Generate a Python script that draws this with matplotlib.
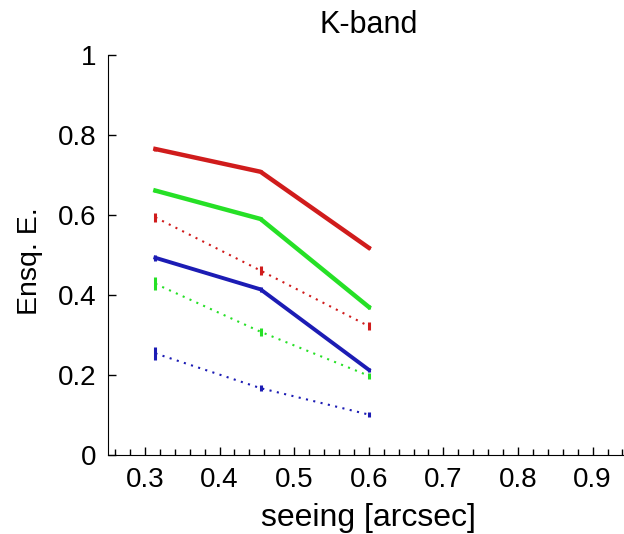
import matplotlib
matplotlib.use("Agg")
import matplotlib.pyplot as plt
from matplotlib.ticker import MultipleLocator

plt.rcParams['font.family'] = ['Liberation Sans', 'DejaVu Sans']

seeing = [0.314, 0.455, 0.600]

red_solid = [0.765, 0.708, 0.518]
green_solid = [0.661, 0.590, 0.370]
blue_solid = [0.493, 0.414, 0.213]
red_dotted = [0.594, 0.461, 0.322]
green_dotted = [0.428, 0.308, 0.198]
blue_dotted = [0.254, 0.167, 0.101]

red_solid_err = [0.004, 0.004, 0.004]
green_solid_err = [0.004, 0.004, 0.005]
blue_solid_err = [0.008, 0.006, 0.005]
red_dotted_err = [0.012, 0.012, 0.010]
green_dotted_err = [0.016, 0.010, 0.008]
blue_dotted_err = [0.016, 0.008, 0.006]

RED = '#d01c1c'
GREEN = '#26e026'
BLUE = '#1c1cb4'
DOT = (0, (1, 2.6))

fig = plt.figure(figsize=(6.24, 5.34), dpi=100)
ax = fig.add_axes([0.1725, 0.148, 0.837, 0.749])

series = [
    (red_solid, red_solid_err, RED, '-', 3.2),
    (green_solid, green_solid_err, GREEN, '-', 3.2),
    (blue_solid, blue_solid_err, BLUE, '-', 2.8),
    (red_dotted, red_dotted_err, RED, DOT, 1.5),
    (green_dotted, green_dotted_err, GREEN, DOT, 1.5),
    (blue_dotted, blue_dotted_err, BLUE, DOT, 1.5),
]
for y, e, c, ls, lw in series:
    ax.plot(seeing, y, color=c, linestyle=ls, linewidth=lw)
    ax.errorbar(seeing, y, yerr=e, fmt='none', ecolor=c, elinewidth=2.2, capsize=0)

ax.set_xlim(0.25, 0.95)
ax.set_ylim(0, 1)
ax.xaxis.set_minor_locator(MultipleLocator(0.02))
ax.set_xticks([0.3, 0.4, 0.5, 0.6, 0.7, 0.8, 0.9])
ax.set_xticklabels(['0.3', '0.4', '0.5', '0.6', '0.7', '0.8', '0.9'])
ax.set_yticks([0, 0.2, 0.4, 0.6, 0.8, 1])
ax.set_yticklabels(['0', '0.2', '0.4', '0.6', '0.8', '1'])

ax.spines['top'].set_visible(False)
ax.spines['right'].set_visible(False)
ax.tick_params(axis='both', which='major', direction='in', length=6, width=1, labelsize=20)
ax.tick_params(axis='x', which='major', pad=9)
ax.tick_params(axis='y', which='major', pad=8)
ax.tick_params(axis='x', which='minor', direction='in', length=4, width=1)

ax.set_xlabel('seeing [arcsec]', fontsize=23, labelpad=7)
ax.set_ylabel('Ensq. E.', fontsize=20.5, labelpad=9)
ax.yaxis.set_label_coords(-0.123, 0.485)
ax.set_title('K-band', fontsize=22, pad=16)

fig.savefig('out.png', dpi=100)
